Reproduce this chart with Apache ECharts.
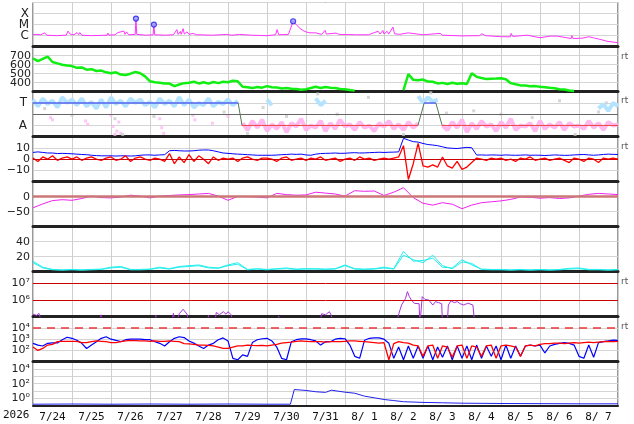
<!DOCTYPE html>
<html><head><meta charset="utf-8">
<script src="https://cdn.jsdelivr.net/npm/echarts@6/dist/echarts.min.js"></script>
<style>html,body{margin:0;padding:0;background:#fff}#c{width:634px;height:424px}</style>
</head><body><div id="c"></div>
<script>
// ---------------- DATA ----------------
const dayLabels = ['7/24','7/25','7/26','7/27','7/28','7/29','7/30','7/31','8/ 1','8/ 2','8/ 3','8/ 4','8/ 5','8/ 6','8/ 7'];
const yearLabel = '2026';
const xrayTicks = {0:'C', 1:'M', 2:'X'};

// X-ray flux in C-class units, times in days since 7/24 00:00
const xrayT = [0,0.1,0.15,0.2,0.3,0.35,0.6,0.85,0.9,0.95,1.05,1.13,1.17,1.2,1.25,1.5,1.9,1.92,1.95,2.1,2.18,2.22,2.33,2.36,2.4,2.45,2.62,2.64,2.66,2.9,3.08,3.1,3.12,3.4,3.6,3.69,3.72,3.78,3.8,3.85,3.88,3.95,4.0,4.1,4.2,4.6,4.97,5.1,5.3,5.6,6.0,6.22,6.26,6.3,6.55,6.67,6.75,6.85,6.95,7.03,7.1,7.15,7.25,7.4,7.49,7.52,7.77,7.85,8.3,8.6,8.85,8.9,8.97,9.0,9.08,9.12,9.23,9.27,9.4,9.62,9.66,10.0,10.44,10.5,11.0,11.45,11.51,11.6,12.0,12.24,12.26,12.3,12.67,12.7,13.0,13.26,13.3,13.45,13.5,13.8,13.82,13.85,14.1,14.25,14.4,14.5,14.74,15];
const xrayV = [1.2,1.3,1.9,1.2,1.8,1.1,1.0,1.1,2.6,1.4,1.2,1.9,1.2,1.9,1.1,1.0,1.1,1.7,1.1,1.2,1.9,1.3,2.6,1.3,2.2,1.2,1.3,35,1.3,1.1,1.2,10,1.2,1.1,1.2,3.5,1.3,2.4,1.3,4.3,1.4,2.2,1.3,1.6,1.2,1.1,1.3,1.1,1.3,1.1,1.0,1.2,3.5,1.2,1.3,20,10,4.3,2.6,2.0,1.8,2.6,1.8,1.3,3.0,1.4,1.7,1.3,1.2,1.2,2.5,1.4,3.0,1.4,2.5,1.4,6.0,1.5,1.3,1.8,1.2,1.2,1.6,1.1,0.95,1.0,1.5,1.0,0.8,0.8,1.6,0.85,1.1,0.75,0.65,0.9,0.6,0.9,0.6,0.55,1.0,0.55,0.6,0.8,0.6,0.5,0.3,0.23];
const flareT = [2.64, 3.1, 6.67];
const flareV = [35, 10, 20];

// Solar wind speed, 3-hour samples
const speed = [
 670,640,665,690,630,615,600,590,
 585,565,570,545,550,530,535,515,
 505,515,490,485,500,520,505,470,
 415,405,400,392,390,362,380,395,
 400,410,392,405,390,408,395,410,
 405,422,415,355,350,340,352,345,
 362,350,348,336,340,332,330,322,
 328,342,355,342,352,345,342,330,
 326,318,312,null,null,null,null,null,
 null,null,null,null,318,495,432,428,
 435,412,410,392,398,385,400,388,
 395,385,505,465,452,440,445,446,
 450,438,395,382,370,370,360,362,
 355,350,343,338,328,324,313,308,
 null,null,null,null,null,null,null,null,null];

// Sector: T = 3, A = 1
const sectorTicks = {1:'A', 3:'T'};
const sectorLineT = [0, 5.26, 5.36, 9.87, 10.03, 10.33, 10.49, 15];
const sectorLineV = [3, 3, 1, 1, 3, 3, 1, 1];
const sectorBlueDots = [
 3.3,2.7,3.4,2.9,3.2,2.6,3.5,3.0,3.3,2.8,3.4,2.7,3.1,2.5,3.3,2.6,3.5,2.9,3.2,2.7,3.4,3.0,3.3,2.8,3.1,2.6,3.4,2.9,3.2,2.7,3.5,2.8,3.3,2.6,3.0,2.8,3.4,2.7,3.1,2.9,3.3,2.8,3.2,
 null,null,null,null,null,
 3.3,2.8,
 null,null,null,null,null,null,null,null,
 3.4,2.8,3.2,
 null,null,null,null,null,null,null,null,null,null,null,null,null,null,null,null,null,null,
 3.6,3.0,3.5,3.1,3.3,
 null,null,null,null,null,null,null,null,null,null,null,null,null,null,null,null,null,null,null,null,null,null,null,null,null,null,null,null,null,null,null,null,
 2.5,2.9,2.3,3.0,2.7];
const sectorPinkDots = [
 null,null,null,null,null,null,null,null,null,null,null,null,null,null,null,null,null,null,null,null,null,null,null,null,null,null,null,null,null,null,null,null,null,null,null,null,null,null,null,null,null,null,null,
 1.2,0.6,1.4,0.8,1.5,0.5,1.1,0.7,1.3,0.4,1.2,0.9,1.6,0.6,1.0,0.8,1.4,0.5,1.2,0.7,1.5,0.9,1.1,0.6,1.3,0.8,1.0,0.5,1.2,0.9,1.4,0.7,1.1,0.6,1.3,0.8,1.2,
 null,null,null,null,
 1.0,0.6,1.3,0.8,1.5,0.4,1.2,0.7,1.4,0.9,1.1,0.5,1.3,0.8,1.6,0.6,1.0,0.9,1.2,0.5,1.4,0.7,1.1,0.8,1.3,0.6,1.2,0.9,1.0,0.7,1.4,0.8,1.2,0.6,1.3,1.0,1.1];
const pinkOutT = [0.45,0.5,1.35,1.4,2.0,2.05,2.1,2.15,2.2,2.25,3.25,3.3,3.35,4.1,4.15,4.6,5.0];
const pinkOutV = [1.7,1.5,1.4,1.1,1.9,0.9,0.2,0.5,1.3,0.3,1.6,0.8,0.3,1.9,1.5,1.2,1.8];
const grayDotT = [0.3,1.0,2.1,2.3,3.1,4.9,5.5,5.9,6.5,7.3,7.8,8.6,8.9,9.5,10.2,10.6,11.3,12.0,12.8,13.5,13.9,14.5,14.7];
const grayDotV = [2.5,1.9,1.6,0.2,1.8,2.2,0.3,2.6,1.8,3.8,2.0,3.5,1.0,0.2,3.9,2.1,2.3,2.0,1.7,3.2,0.2,2.2,3.0];

// IMF Bt (blue) and Bz (red), 3-hour samples
const bt = [
 6,6.5,6,5.5,5.5,5,5.2,5,
 4.8,4.5,4.2,4,3.5,3.2,3,3,
 3,2.8,3,3,2.8,3,3.5,3.8,
 3.8,3.5,3.8,4,7.5,7.8,7.5,7.3,
 7.3,7.5,8,8.2,8.2,7.5,6.5,5.5,
 5.2,4.8,4.5,4.3,4,3.8,3.5,3.5,
 3.5,3.5,3.7,4,4.2,4.5,4.3,4.5,
 3.8,3.5,4.5,5,5.2,5.3,5.5,5.2,
 5.3,5.6,5.8,5.5,5.6,5.8,6,6.2,
 6,6.2,6.3,6.5,18.6,17,15.6,15.2,
 14,13,12.6,12,11,10,9.7,9.5,
 10,10.5,10.2,3.7,3.8,3.6,3.8,3.7,
 3.5,3.8,3.6,3.5,3.6,3.8,3.5,3.6,
 3.5,3.3,3.5,3.8,3.6,3.4,3.5,3.8,
 4,4.2,3.8,3.5,3.8,4.2,4.5,4.3,4.2];
const bz = [
 1,-2,2,0,3,-1,1,2,
 0,2,-1,1,2,0,-1,1,
 2,-1,0,3,-2,1,2,0,
 -1,1,0,-2,5,-4,2,-3,
 4,-2,3,0,-4,2,-1,1,
 0,1,-2,1,2,0,-1,1,
 1,0,-2,1,2,-1,0,1,
 -1,1,0,2,-1,0,1,-2,
 0,1,-1,2,0,1,-1,0,
 1,0,1,2,12,-18,-4,14,
 -6,-7,-5,-7,2,-6,-8,-2,
 -9,-7,-3,1,0,-1,1,0,
 1,-1,0,-2,1,0,2,-1,
 0,1,-1,0,1,-1,-3,1,
 0,-2,1,0,-3,1,0,1,0];

// Dst, 6-hour samples
const dst = [-37,-24,-13,-10,-12,-6,2,-3,-4,-1,5,2,-4,2,4,6,7,9,11,2,-12,1,0,-1,-4,11,7,5,6,15,12,9,2,20,18,19,4,15,30,-3,-22,-28,-20,-25,-40,-28,-20,-17,-14,-9,-1,-2,-5,-3,-6,-4,2,8,11,9,7];

// Cyan pair, 6-hour samples
const cyanA = [14,6,3,2.5,3,2.5,3,3.5,6,7,3,3,3.5,6,4,7,8,9,6,5,9,12,3,4,3,4,5,3.5,4,4,3.5,4,9,4,3.5,4,6,4,27,14,15,18,6,5,16,9,3.5,3,3,2.5,3,2.5,3,2.5,3,4.5,5,3,3,2.5,3];
const cyanB = [12,5,2.5,2,2.5,2,2.5,3,5,6,2.5,2.5,3,5,3.5,6,7,8,5,4.5,8,10,2.5,3.5,2.5,3.5,4,3,3.5,3.5,3,3.5,8,3.5,3,3.5,5,3.5,22,16,12,22,8,4,13,11,3,2.5,2.5,2,2.5,2,2.5,2,2.5,3.5,4,2.5,2.5,2,2.5];

// Purple log series (values below 1e5 lie under the panel floor)
const purpleT = [0,0.1,0.15,0.25,1.72,1.74,1.78,3.1,3.15,3.2,3.55,3.6,3.65,3.7,3.75,3.85,3.95,4.0,4.45,4.5,4.55,4.65,4.7,4.78,4.88,4.95,5.0,5.08,5.15,6.25,6.3,6.35,7.35,7.4,7.5,7.6,7.65,7.7,9.3,9.38,9.45,9.55,9.6,9.65,9.7,9.78,9.9,9.92,9.96,9.98,10.05,10.15,10.2,10.25,10.32,10.4,10.48,10.5,10.62,10.65,10.72,10.8,10.88,10.95,11.05,11.15,11.28,11.33,15];
const purpleV = [1.4e5,1.2e5,1.6e5,3e4,3e4,1.3e5,3e4,3e4,1.2e5,3e4,3e4,1.6e5,3e4,3e4,1.5e5,2.8e5,1.4e5,3e4,3e4,1.2e5,3e4,3e4,1.8e5,1.3e5,2e5,1.4e5,2e5,1.3e5,3e4,3e4,1.1e5,3e4,3e4,1.5e5,1.3e5,2e5,1.2e5,3e4,3e4,1.5e5,5e5,1.2e6,3.2e6,1.6e6,1e6,6.3e5,6e5,3e4,3e4,1.6e6,1.1e6,1e6,1.1e6,5e5,8e5,7e5,6e5,3e4,3e4,5e5,9e5,7e5,8e5,6e5,5e5,6.5e5,5e5,3e4,3e4];
const purpleLines = [1e6, 1e7];

// Electron flux (blue, red), 3-hour samples
const elecBlue = [
 430,300,250,430,470,470,900,1500,
 1200,800,430,150,300,600,1200,1650,
 1000,800,600,900,1000,1000,1000,900,
 900,600,430,250,600,1200,1650,1400,
 700,450,250,150,300,430,900,1300,
 700,20,15,40,30,500,900,1100,
 1200,700,200,20,15,600,900,1050,
 1050,900,700,300,600,600,1000,1200,
 1100,300,30,20,800,1200,1300,1300,
 1000,430,20,200,15,250,20,250,
 20,250,15,200,25,250,15,250,
 20,250,15,300,20,250,30,250,
 15,300,20,250,30,250,300,250,
 300,60,250,350,430,500,430,300,
 30,20,300,25,500,600,700,830,800];
const elecRed = [
 200,100,150,300,350,600,650,650,
 650,650,500,500,600,700,650,600,
 500,500,600,700,800,750,700,700,
 650,700,650,650,700,650,600,400,
 380,350,300,300,280,250,200,150,
 150,200,250,250,300,280,270,280,
 250,300,350,450,500,550,650,700,
 650,600,600,600,550,600,600,600,
 650,700,700,650,600,550,500,450,
 500,15,400,600,500,450,300,250,
 30,250,300,20,250,200,25,250,
 300,20,250,200,30,250,300,20,
 250,300,250,200,30,250,300,250,
 350,400,400,450,450,400,450,500,
 450,500,550,500,550,600,650,600,650];
const elecThreshold = 1e4;

// Proton flux
const protonT = [0,1,2,3,4,5,6,6.6,6.7,6.75,7.0,7.25,7.5,7.65,7.8,8.0,8.25,8.5,8.75,9.0,9.25,9.5,10.0,10.5,11.0,12.0,13.0,14.0,15.0];
const protonV = [0.16,0.17,0.16,0.17,0.16,0.17,0.16,0.16,16,17,12,8,6.5,13,10,7,5,2,1.2,0.7,0.5,0.35,0.28,0.25,0.22,0.2,0.19,0.18,0.18];

// ---------------- BUILD ----------------
const grid3 = a => a.map((v,i) => [i*0.125, v]);
const grid6 = a => a.map((v,i) => [i*0.25, v]);
const zip = (t,v) => t.map((x,i) => [x, v[i]]);
const SUP = '⁰¹²³⁴⁵⁶⁷⁸⁹';
const supLabel = e => '10' + String(e).split('').map(c => SUP[+c]).join('');
const expFmt = show => v => { const e = Math.round(Math.log10(v)); return show.includes(e) ? supLabel(e) : ''; };
const num = v => (v < 0 ? '\u2212' + Math.abs(v) : String(v));

// sector line segments coloured by state
const segBlue = [], segRed = [], segGray = [];
for (let i = 0; i < sectorLineT.length - 1; i++) {
  const a = [sectorLineT[i], sectorLineV[i]], b = [sectorLineT[i+1], sectorLineV[i+1]];
  const tgt = (a[1] === 3 && b[1] === 3) ? segBlue : (a[1] === 1 && b[1] === 1) ? segRed : segGray;
  tgt.push(a, b, null);
}

const MONO = 'DejaVu Sans Mono';
const SANS = 'DejaVu Sans';
const tops = [2.5, 46.7, 91.7, 136.7, 181.7, 226.7, 271.7, 316.7, 361.7, 405.7];
const grids = [];
for (let i = 0; i < 9; i++) grids.push({left: 33, right: 16, top: tops[i], height: tops[i+1] - tops[i], show: true, borderColor: '#333', borderWidth: 1});

const xAxes = [];
for (let i = 0; i < 9; i++) xAxes.push({
  type: 'value', gridIndex: i, min: 0, max: 15, interval: 1,
  axisLabel: {show: false}, axisTick: {show: false},
  axisLine: {show: true, onZero: false, lineStyle: {color: '#222', width: i === 8 ? 2 : 3}},
  splitLine: {show: true, lineStyle: {color: '#cfcfcf', width: 1}}
});
xAxes.push({
  type: 'category', gridIndex: 8, data: dayLabels, boundaryGap: true, position: 'bottom',
  axisLine: {show: false}, axisTick: {show: false}, splitLine: {show: false},
  axisLabel: {fontFamily: MONO, fontSize: 11, color: '#111', margin: 6}
});

const lab = (fmt, size, margin) => ({fontFamily: SANS, fontSize: size || 10.5, color: '#222', margin: margin || 3, formatter: fmt});
const yBase = (i, extra) => Object.assign({
  gridIndex: i, axisTick: {show: false}, axisLine: {show: false},
  splitLine: {show: true, lineStyle: {color: '#d4d4d4'}}
}, extra);

const yAxes = [
  yBase(0, {type: 'log', min: 0.1, max: 1000, axisLabel: lab(v => xrayTicks[Math.round(Math.log10(v))] || '', 12, 4)}),
  yBase(1, {type: 'value', min: 300, max: 800, interval: 100, axisLabel: lab(v => (v >= 400 && v <= 700) ? num(v) : '', 11, 2)}),
  yBase(2, {type: 'value', min: 0, max: 4, interval: 1, axisLabel: lab(v => sectorTicks[v] || '', 12, 6)}),
  yBase(3, {type: 'value', min: -20, max: 20, interval: 10, axisLabel: lab(v => Math.abs(v) <= 10 ? num(v) : '', 11, 3)}),
  yBase(4, {type: 'value', min: -100, max: 50, interval: 50, axisLabel: lab(v => (v === 0 || v === -50) ? num(v) : '', 11, 3)}),
  yBase(5, {type: 'value', min: 0, max: 60, interval: 20, axisLabel: lab(v => (v === 20 || v === 40) ? num(v) : '', 11, 3)}),
  yBase(6, {type: 'log', min: 1e5, max: 5e7, splitLine: {show: false}, axisLabel: lab(expFmt([6, 7]), 11, 3)}),
  yBase(7, {type: 'log', min: 10, max: 1e5, axisLabel: lab(expFmt([2, 3, 4]), 11, 3)}),
  yBase(8, {type: 'log', min: 0.1, max: 1e5, axisLabel: lab(expFmt([0, 2, 4]), 11, 3)})
];

const line = (i, data, color, extra) => Object.assign({
  type: 'line', xAxisIndex: i, yAxisIndex: i, data: data, showSymbol: false, symbol: 'none',
  connectNulls: false, animation: false, silent: true,
  lineStyle: {color: color, width: 1}
}, extra || {});
const mark = (vals, color, width, type) => ({silent: true, symbol: 'none', label: {show: false}, animation: false,
  lineStyle: {color: color, width: width, type: type || 'solid'}, data: vals.map(v => ({yAxis: v}))});

const series = [
  line(0, zip(xrayT, xrayV), '#ff33ff'),
  {type: 'scatter', xAxisIndex: 0, yAxisIndex: 0, data: zip(flareT, flareV), symbol: 'circle', symbolSize: 5,
   itemStyle: {color: '#9999ff', borderColor: '#2222ee', borderWidth: 1.2}, animation: false, silent: true, z: 5},
  line(1, grid3(speed), '#11ee11', {lineStyle: {color: '#11ee11', width: 2.5}}),
  line(2, grid3(sectorBlueDots), '#b3e3ff', {lineStyle: {color: '#b3e3ff', width: 4}, markLine: mark([2], '#666', 1)}),
  line(2, grid3(sectorPinkDots), '#ffb8f0', {lineStyle: {color: '#ffb8f0', width: 4}}),
  {type: 'scatter', xAxisIndex: 2, yAxisIndex: 2, data: zip(pinkOutT, pinkOutV), symbol: 'rect', symbolSize: 3, itemStyle: {color: '#ffb8f0'}, animation: false, silent: true},
  {type: 'scatter', xAxisIndex: 2, yAxisIndex: 2, data: zip(grayDotT, grayDotV), symbol: 'rect', symbolSize: 3, itemStyle: {color: '#cccccc'}, animation: false, silent: true},
  line(2, segGray, '#557755', {z: 4}),
  line(2, segBlue, '#5566ee', {z: 4, lineStyle: {color: '#5566ee', width: 1.5}}),
  line(2, segRed, '#ee4444', {z: 4}),
  line(3, grid3(bt), '#0000ff', {markLine: mark([0], '#cc0000', 1)}),
  line(3, grid3(bz), '#ff0000', {lineStyle: {color: '#ff0000', width: 1.3}}),
  line(4, grid6(dst), '#ee22ee', {markLine: mark([0], '#cc7777', 2.5), z: 3}),
  line(5, grid6(cyanA), '#22eeee'),
  line(5, grid6(cyanB), '#22eeee'),
  line(6, zip(purpleT, purpleV), '#aa33dd', {markLine: mark(purpleLines, '#cc0000', 1)}),
  line(7, grid3(elecBlue), '#0000ff', {lineStyle: {color: '#0000ff', width: 1.2}, markLine: mark([elecThreshold], '#ee3333', 1.5, [8, 6])}),
  line(7, grid3(elecRed), '#ff0000', {lineStyle: {color: '#ff0000', width: 1.3}}),
  line(8, zip(protonT, protonV), '#2222ee')
];

const rtStyle = {text: 'rt', fill: '#555', fontSize: 9, fontFamily: SANS};
const graphic = [
  {type: 'text', left: 3, top: 410, style: {text: yearLabel, fill: '#111', fontSize: 11, fontFamily: MONO}}
].concat([52, 96, 142, 277, 322].map(y => ({type: 'text', left: 621, top: y, style: rtStyle})));

const chart = echarts.init(document.getElementById('c'), null, {renderer: 'canvas'});
chart.setOption({animation: false, grid: grids, xAxis: xAxes, yAxis: yAxes, series: series, graphic: graphic});
</script></body></html>
